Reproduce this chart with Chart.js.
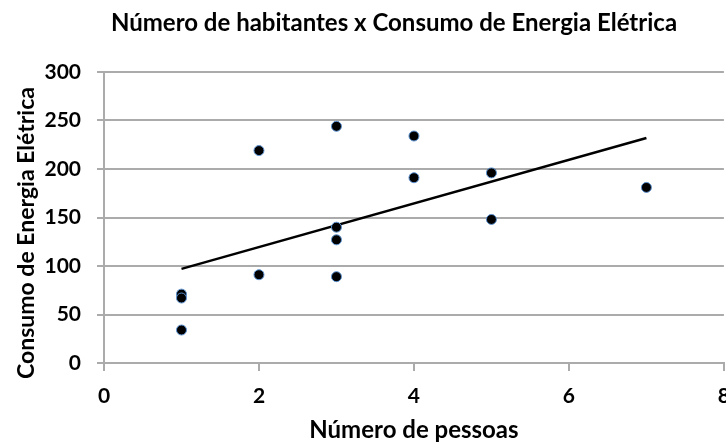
<!DOCTYPE html>
<html>
<head>
<meta charset="utf-8">
<script src="https://cdn.jsdelivr.net/npm/chart.js@4/dist/chart.umd.min.js"></script>
<style>
  html, body { margin: 0; padding: 0; background: #fff; overflow: hidden; }
  /* the original picture is cut on the right, through the last x label */
  #wrap { width: 726px; height: 445px; overflow: hidden; }
</style>
</head>
<body>
<div id="wrap"><canvas id="energyChart" width="743" height="445"></canvas></div>
<script>
// people in the household vs. electricity use
const pessoas = [1, 1, 1, 2, 2, 3, 3, 3, 3, 4, 4, 5, 5, 7];
const consumo = [71, 67, 34, 219, 91, 244, 140, 127, 89, 234, 191, 196, 148, 181];

// linear trendline ends
const trendX = [1, 7];
const trendY = [97, 232];

const xTicks = [0, 2, 4, 6, 8];
const yTicks = [0, 50, 100, 150, 200, 250, 300];

const chartTitle = 'Número de habitantes x Consumo de Energia Elétrica';
const xTitle = 'Número de pessoas';
const yTitle = 'Consumo de Energia Elétrica';

const colors = {
    text: '#000000',
    grid: '#ababab',
    point: '#000000',
    pointEdge: '#5d93d3',
    trend: '#000000'
};
const FONT = 'Lato, "Open Sans", sans-serif';

// chart title and y title are placed by hand, like in the original sheet
const titlesPlugin = {
    id: 'titles',
    afterDraw(chart) {
        const ctx = chart.ctx;
        ctx.save();
        ctx.fillStyle = colors.text;
        ctx.textAlign = 'center';
        ctx.textBaseline = 'middle';
        ctx.font = 'bold 24px ' + FONT;
        ctx.fillText(chartTitle, 394, 23);
        ctx.font = 'bold 23px ' + FONT;
        ctx.translate(27, 233);
        ctx.rotate(-Math.PI / 2);
        ctx.fillText(yTitle, 0, 0);
        ctx.restore();
    }
};

new Chart(document.getElementById('energyChart'), {
    type: 'scatter',
    data: {
        datasets: [{
            label: 'Consumo',
            data: pessoas.map((p, i) => ({ x: p, y: consumo[i] })),
            backgroundColor: colors.point,
            borderColor: colors.pointEdge,
            borderWidth: 1,
            pointRadius: 5,
            pointHoverRadius: 5
        }, {
            label: 'Tendência',
            type: 'line',
            data: trendX.map((x, i) => ({ x: x, y: trendY[i] })),
            borderColor: colors.trend,
            borderWidth: 2.5,
            pointRadius: 0,
            fill: false
        }]
    },
    options: {
        responsive: false,
        animation: false,
        layout: {
            autoPadding: false,
            padding: { top: 72, right: 0, bottom: 0, left: 0 }
        },
        plugins: {
            legend: { display: false },
            title: { display: false },
            tooltip: { enabled: false }
        },
        scales: {
            x: {
                type: 'linear',
                min: xTicks[0],
                max: xTicks[xTicks.length - 1],
                afterFit: s => { s.height = 82; },
                afterBuildTicks: s => { s.ticks = xTicks.map(v => ({ value: v })); },
                grid: {
                    drawOnChartArea: false,
                    drawTicks: true,
                    tickLength: 8,
                    color: colors.grid,
                    lineWidth: 2
                },
                border: { color: colors.grid, width: 2 },
                ticks: {
                    color: colors.text,
                    padding: 13,
                    maxRotation: 0,
                    font: { family: FONT, size: 21, weight: 'bold' }
                },
                title: {
                    display: true,
                    text: xTitle,
                    color: colors.text,
                    padding: { top: 5, bottom: 0 },
                    font: { family: FONT, size: 24, weight: 'bold' }
                }
            },
            y: {
                min: yTicks[0],
                max: yTicks[yTicks.length - 1],
                afterFit: s => { s.width = 104; },
                afterBuildTicks: s => { s.ticks = yTicks.map(v => ({ value: v })); },
                grid: {
                    drawTicks: true,
                    tickLength: 7,
                    color: colors.grid,
                    lineWidth: 2
                },
                border: { color: colors.grid, width: 2 },
                ticks: {
                    color: colors.text,
                    padding: 16,
                    font: { family: FONT, size: 21, weight: 'bold' }
                }
            }
        }
    },
    plugins: [titlesPlugin]
});
</script>
</body>
</html>
